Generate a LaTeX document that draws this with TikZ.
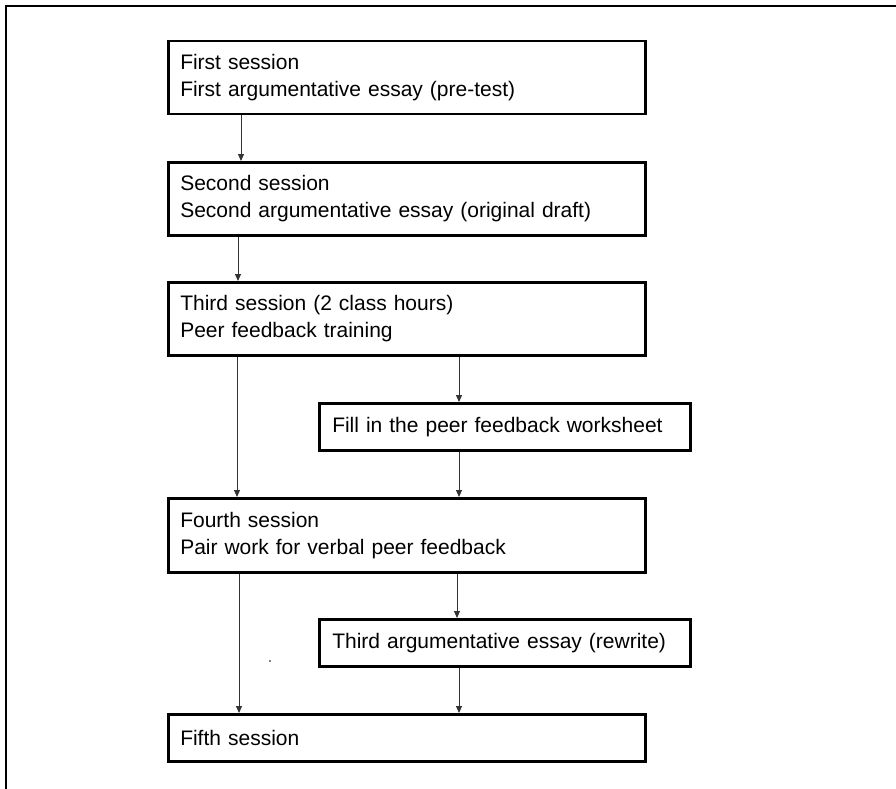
\documentclass[tikz,border=0pt]{standalone}
\usepackage{fontspec}
\setmainfont{Liberation Sans}
\usetikzlibrary{arrows.meta}
\begin{document}
\begin{tikzpicture}[x=1pt,y=-1pt,
  box/.style={draw, line width=2.5pt, anchor=north west, align=left, inner xsep=12pt, inner ysep=0pt,
    font=\fontsize{21}{27}\selectfont},
  arr/.style={draw=black!80, line width=1pt, -{Triangle[length=7pt,width=6pt]}},
  frame/.style={line width=2.5pt}]
\useasboundingbox (0,0) rectangle (896,789);
\draw[frame] (6,789) -- (6,6) -- (896,6);
\node[box, minimum width=477pt, minimum height=73pt, text width=453pt] (b1) at (167,40) {First session\\First argumentative essay (pre-test)};
\node[box, minimum width=477pt, minimum height=73pt, text width=453pt] (b2) at (167,161) {Second session\\Second argumentative essay (original draft)};
\node[box, minimum width=477pt, minimum height=73pt, text width=453pt] (b3) at (167,281) {Third session (2 class hours)\\Peer feedback training};
\node[box, minimum width=371pt, minimum height=47pt, text width=345pt, inner xsep=13pt] (fill) at (318,402) {Fill in the peer feedback worksheet};
\node[box, minimum width=477pt, minimum height=74pt, text width=453pt] (b4) at (167,497) {Fourth session\\Pair work for verbal peer feedback};
\node[box, minimum width=371pt, minimum height=47pt, text width=345pt, inner xsep=13pt] (rew) at (318,618) {Third argumentative essay (rewrite)};
\node[box, minimum width=477pt, minimum height=47pt, text width=453pt] (b5) at (167,713) {Fifth session};
\coordinate (x1) at (241,0);
\coordinate (x2) at (238,0);
\coordinate (x3) at (237,0);
\coordinate (x4) at (459,0);
\coordinate (x5) at (239,0);
\coordinate (x6) at (457,0);
\draw[arr] (b1.south -| x1) -- (b2.north -| x1);
\draw[arr] (b2.south -| x2) -- (b3.north -| x2);
\draw[arr] (b3.south -| x3) -- (b4.north -| x3);
\draw[arr] (b3.south -| x4) -- (fill.north -| x4);
\draw[arr] (fill.south -| x4) -- (b4.north -| x4);
\draw[arr] (b4.south -| x5) -- (b5.north -| x5);
\draw[arr] (b4.south -| x6) -- (rew.north -| x6);
\draw[arr] (rew.south -| x4) -- (b5.north -| x4);
\fill (270,661) circle (0.8pt);
\end{tikzpicture}
\end{document}
